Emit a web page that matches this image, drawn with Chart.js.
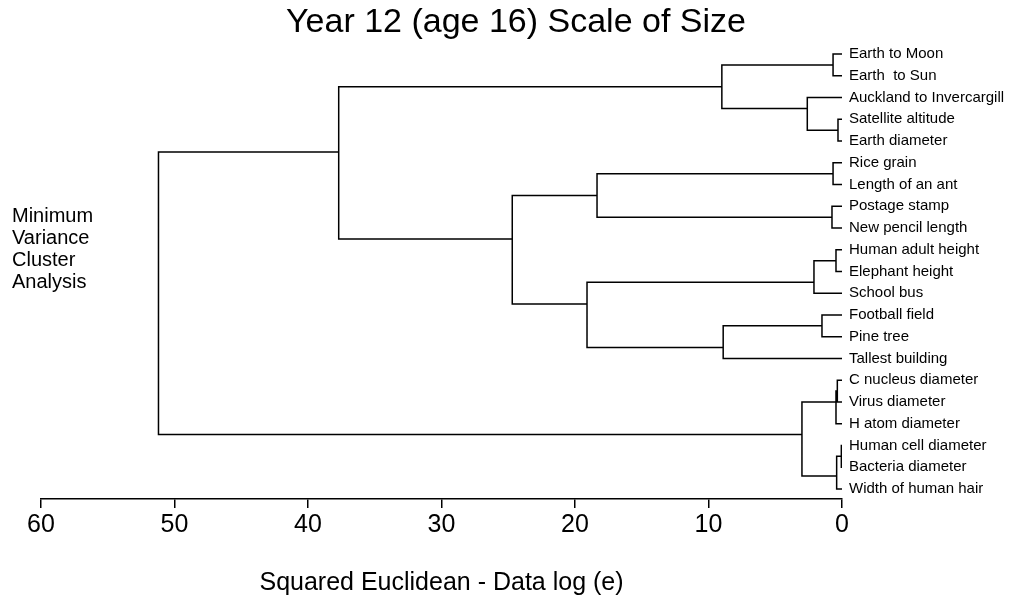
<!DOCTYPE html>
<html>
<head>
<meta charset="utf-8">
<title>Year 12 (age 16) Scale of Size</title>
<script src="https://cdn.jsdelivr.net/npm/chart.js@4"></script>
<style>
  body { margin: 0; background: #fff; }
</style>
</head>
<body>
<canvas id="dendro" width="1032" height="601"></canvas>
<script>
// leaves, top to bottom
var leaves = [
  'Earth to Moon', 'Earth  to Sun', 'Auckland to Invercargill', 'Satellite altitude',
  'Earth diameter', 'Rice grain', 'Length of an ant', 'Postage stamp', 'New pencil length',
  'Human adult height', 'Elephant height', 'School bus', 'Football field', 'Pine tree',
  'Tallest building', 'C nucleus diameter', 'Virus diameter', 'H atom diameter',
  'Human cell diameter', 'Bacteria diameter', 'Width of human hair'
];

// merges: index < 21 is a leaf, 21+k is the cluster made by merge k
var mergeA = [18, 3, 15, 21, 23, 9, 0, 5, 7, 12, 26, 2, 25, 27, 30, 28, 31, 36, 34, 39];
var mergeB = [19, 4, 16, 20, 17, 10, 1, 6, 8, 13, 11, 22, 24, 32, 14, 29, 35, 37, 38, 33];
var mergeHeight = [0.05, 0.3, 0.35, 0.4, 0.45, 0.45, 0.67, 0.67, 0.75, 1.5, 2.1, 2.6, 3.0,
                   9.0, 8.9, 18.35, 19.1, 24.7, 37.7, 51.2];
// row (in leaf units) where each cluster's line leaves, as printed
var mergeRow = [18.5, 3.5, 15.5, 19.4, 16, 9.5, 0.5, 5.5, 7.5, 12.5, 10.5, 2.5, 17.5,
                1.5, 13.5, 6.5, 11.5, 8.5, 4.5, 11];

var xTicks = [0, 10, 20, 30, 40, 50, 60];
var sideNote = ['Minimum', 'Variance', 'Cluster', 'Analysis'];

// build the elbow lines from the merge table
var nodeX = leaves.map(function() { return 0; });
var nodeY = leaves.map(function(_, i) { return i; });
var links = [];
for (var k = 0; k < mergeHeight.length; k++) {
  var a = mergeA[k], b = mergeB[k], h = mergeHeight[k];
  links.push({x: nodeX[a], y: nodeY[a]}, {x: h, y: nodeY[a]},
             {x: h, y: nodeY[b]}, {x: nodeX[b], y: nodeY[b]}, {x: h, y: null});
  nodeX.push(h);
  nodeY.push(mergeRow[k]);
}

Chart.defaults.font.family = "'Liberation Sans', Arial, sans-serif";
Chart.defaults.color = '#000';

var sideText = {
  id: 'sideText',
  afterDraw: function(chart) {
    var ctx = chart.ctx;
    ctx.save();
    ctx.font = "20px 'Liberation Sans', Arial, sans-serif";
    ctx.fillStyle = '#000';
    ctx.textBaseline = 'middle';
    sideNote.forEach(function(t, i) { ctx.fillText(t, 12, 216 + i * 22); });
    ctx.restore();
  }
};

new Chart(document.getElementById('dendro'), {
  type: 'line',
  data: {
    datasets: [{
      data: links,
      borderColor: '#000',
      borderWidth: 1.5,
      pointRadius: 0,
      spanGaps: false,
      tension: 0,
      fill: false
    }]
  },
  options: {
    responsive: false,
    animation: false,
    layout: { padding: 0 },
    plugins: {
      legend: { display: false },
      tooltip: { enabled: false },
      title: {
        display: true,
        text: 'Year 12 (age 16) Scale of Size',
        font: { size: 34, weight: 'normal' },
        color: '#000',
        padding: { top: 2, bottom: 1.2 }
      }
    },
    scales: {
      x: {
        type: 'linear',
        reverse: true,
        min: 0,
        max: 60,
        afterBuildTicks: function(s) { s.ticks = xTicks.map(function(v) { return {value: v}; }); },
        afterFit: function(s) { s.height = 102; },
        ticks: { font: { size: 25 }, color: '#000', padding: 2, maxRotation: 0 },
        grid: { drawOnChartArea: false, drawTicks: true, tickLength: 9, color: '#000', lineWidth: 1.5 },
        border: { display: true, color: '#000', width: 1.5 },
        title: {
          display: true,
          text: 'Squared Euclidean - Data log (e)',
          font: { size: 25 },
          color: '#000',
          padding: { top: 0, bottom: 3 }
        }
      },
      y: {
        type: 'linear',
        position: 'right',
        reverse: true,
        min: -0.46,
        max: 20.46,
        afterBuildTicks: function(s) { s.ticks = leaves.map(function(_, i) { return {value: i}; }); },
        afterFit: function(s) { s.width = 190; },
        ticks: {
          autoSkip: false,
          font: { size: 15 },
          color: '#000',
          padding: 7,
          callback: function(v) { return leaves[v]; }
        },
        grid: { display: false, drawTicks: false },
        border: { display: false }
      },
      // empty left gutter that keeps the plot at x = 41
      yl: {
        type: 'linear',
        position: 'left',
        afterFit: function(s) { s.width = 41; },
        ticks: { display: false },
        grid: { display: false, drawTicks: false },
        border: { display: false }
      }
    }
  },
  plugins: [sideText]
});
</script>
</body>
</html>
